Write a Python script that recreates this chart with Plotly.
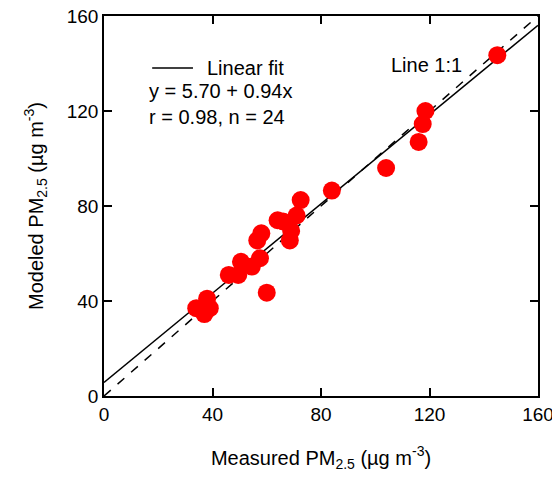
import plotly.graph_objects as go

# measured vs modeled PM2.5 (ug m-3)
measured = [145, 118.5, 117.5, 116, 104, 84, 72.5, 71, 69, 68.5, 64, 66,
            58, 56.5, 57.5, 54.5, 50.5, 46, 49.5, 60, 34, 38, 39, 37]
modeled = [143.5, 120, 114.5, 107, 96, 86.5, 82.5, 76, 69.5, 65.5, 74, 73.5,
           68.5, 65.5, 58, 54.5, 56.5, 51, 51, 43.5, 37, 41, 37, 34.5]

# fit reported on the figure
fit_intercept = 5.70
fit_slope = 0.94
fit_r = 0.98
axis_range = [0, 160]
tick_vals = [0, 40, 80, 120, 160]

font = "Liberation Sans, Arial, sans-serif"
text_font = dict(size=20, color="black", family=font)

fig = go.Figure()

fig.add_trace(go.Scatter(
    x=axis_range, y=axis_range, mode="lines",
    line=dict(color="black", width=1.5, dash="dash"),
    showlegend=False,
))
fig.add_trace(go.Scatter(
    x=axis_range, y=[fit_intercept + fit_slope * v for v in axis_range],
    mode="lines", line=dict(color="black", width=1.5),
    showlegend=False,
))
fig.add_trace(go.Scatter(
    x=measured, y=modeled, mode="markers",
    marker=dict(color="#ff0000", size=18, line=dict(width=0)),
    showlegend=False,
))

axis_style = dict(
    range=axis_range, tickvals=tick_vals, ticks="inside", ticklen=8,
    tickwidth=1.5, tickcolor="black", showline=True, linecolor="black",
    linewidth=1.5, mirror="ticks", showgrid=False, zeroline=False,
    automargin=False, ticklabeloverflow="allow",
    tickfont=dict(size=19, color="black", family=font),
)

fig.update_xaxes(
    title=dict(text="Measured PM<sub>2.5</sub> (µg m<sup>-3</sup>)",
               font=text_font, standoff=27),
    **axis_style,
)
fig.update_yaxes(
    title=dict(text="Modeled PM<sub>2.5</sub> (µg m<sup>-3</sup>)",
               font=text_font, standoff=18),
    **axis_style,
)

# hand-made legend key for the fit line
fig.add_shape(type="line", xref="paper", yref="paper",
              x0=0.111, x1=0.205, y0=0.863, y1=0.863,
              line=dict(color="black", width=1.5))
fig.add_annotation(xref="paper", yref="paper", x=0.233, y=0.863, text="Linear fit",
                   showarrow=False, xanchor="left", yanchor="middle", font=text_font)

fig.add_annotation(x=16, y=128.5, text="y = %.2f + %.2fx" % (fit_intercept, fit_slope),
                   showarrow=False, xanchor="left", yanchor="middle", font=text_font)
fig.add_annotation(x=16, y=117.5, text="r = %.2f, n = %d" % (fit_r, len(measured)),
                   showarrow=False, xanchor="left", yanchor="middle", font=text_font)
fig.add_annotation(x=105, y=139.5, text="Line 1:1",
                   showarrow=False, xanchor="left", yanchor="middle", font=text_font)

# page body adds an 8px offset, so the figure is 8px smaller on each axis
fig.update_layout(
    width=552, height=473,
    margin=dict(l=96, r=22, t=8, b=85),
    paper_bgcolor="white", plot_bgcolor="white",
    showlegend=False,
)

fig.write_html("out.html")
